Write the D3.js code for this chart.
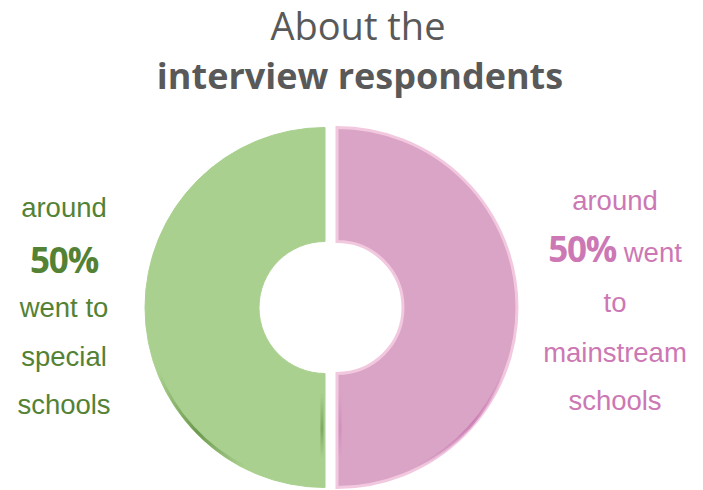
<!DOCTYPE html>
<html>
<head>
<meta charset="utf-8">
<script src="https://cdn.jsdelivr.net/npm/d3@7"></script>
<style>
  html, body { margin: 0; padding: 0; background: #ffffff; }
  svg { display: block; }
</style>
</head>
<body>
<svg id="chart" width="703" height="490"></svg>
<script>
// Share of interview respondents by school type
const categories = ["mainstream schools", "special schools"];
const shares = [50, 50];
const sliceColors = ["#d9a4c5", "#a9d08e"];
const sliceEdges = ["#f2c8df", "#a9d08e"];

const titleLines = ["About the", "interview respondents"];
const leftLines = ["around", "50%", "went to", "special", "schools"];
const rightLines = [["around"], ["50%", " went"], ["to"], ["mainstream"], ["schools"]];

const svg = d3.select("#chart");
const cx = 331, cy = 307.5;
const outerR = 180, innerR = 66, explode = 6;

// Title
const title = svg.append("g").attr("font-family", "'Open Sans', sans-serif").attr("fill", "#595959").attr("text-anchor", "middle");
title.append("text").attr("x", 358).attr("y", 40).attr("font-size", 38).text(titleLines[0]);
title.append("text").attr("x", 360).attr("y", 89).attr("font-size", 36).attr("font-weight", 700).text(titleLines[1]);

// Donut
const pie = d3.pie().sort(null).value(d => d).startAngle(0).endAngle(2 * Math.PI);
const arc = d3.arc().innerRadius(innerR).outerRadius(outerR);
const arcs = pie(shares);

const defs = svg.append("defs");
defs.append("filter").attr("id", "soft")
  .append("feGaussianBlur").attr("stdDeviation", 0.6);
defs.append("filter").attr("id", "softer")
  .append("feGaussianBlur").attr("stdDeviation", 1);

const offsetOf = d => {
  const mid = (d.startAngle + d.endAngle) / 2;
  return [Math.sin(mid) * explode, -Math.cos(mid) * explode];
};

const donut = svg.append("g").attr("transform", `translate(${cx},${cy})`);
donut.selectAll("path.slice")
  .data(arcs)
  .join("path")
  .attr("class", "slice")
  .attr("transform", d => `translate(${offsetOf(d)})`)
  .attr("d", arc)
  .attr("fill", (d, i) => sliceColors[i])
  .attr("stroke", (d, i) => sliceEdges[i])
  .attr("stroke-width", (d, i) => i === 0 ? 3 : 1)
  .attr("filter", "url(#soft)");

// Darker shading along the lower outer edge and the lower straight edge of each slice
const shadeColors = ["#c46fae", "#548235"];
const shadeArc = d3.arc().innerRadius(outerR - 3).outerRadius(outerR);
arcs.forEach((d, i) => {
  const [dx, dy] = offsetOf(d);
  const span = i === 0 ? [Math.PI * 0.62, Math.PI * 0.85] : [Math.PI * 1.15, Math.PI * 1.38];
  const gid = "shade" + i;
  const g = defs.append("linearGradient").attr("id", gid)
    .attr("gradientUnits", "userSpaceOnUse")
    .attr("x1", Math.sin(span[0]) * outerR).attr("y1", -Math.cos(span[0]) * outerR)
    .attr("x2", Math.sin(span[1]) * outerR).attr("y2", -Math.cos(span[1]) * outerR);
  g.append("stop").attr("offset", "0%").attr("stop-color", shadeColors[i]).attr("stop-opacity", 0);
  g.append("stop").attr("offset", "45%").attr("stop-color", shadeColors[i]).attr("stop-opacity", 0.7);
  g.append("stop").attr("offset", "100%").attr("stop-color", shadeColors[i]).attr("stop-opacity", 0);
  donut.append("path")
    .attr("transform", `translate(${dx},${dy})`)
    .attr("d", shadeArc({ startAngle: span[0], endAngle: span[1] }))
    .attr("fill", `url(#${gid})`)
    .attr("filter", "url(#soft)");

  // straight edge along the gap, lower part
  const vid = "vshade" + i;
  const y0 = innerR + 20, y1 = outerR - 30;
  const vg = defs.append("linearGradient").attr("id", vid)
    .attr("gradientUnits", "userSpaceOnUse")
    .attr("x1", 0).attr("y1", y0).attr("x2", 0).attr("y2", y1);
  vg.append("stop").attr("offset", "0%").attr("stop-color", shadeColors[i]).attr("stop-opacity", 0);
  vg.append("stop").attr("offset", "55%").attr("stop-color", shadeColors[i]).attr("stop-opacity", i === 0 ? 0.6 : 0.85);
  vg.append("stop").attr("offset", "100%").attr("stop-color", shadeColors[i]).attr("stop-opacity", 0);
  const edgeX = i === 0 ? 2 : -4;
  donut.append("rect")
    .attr("transform", `translate(${dx},${dy})`)
    .attr("x", edgeX).attr("y", y0)
    .attr("width", 2).attr("height", y1 - y0)
    .attr("fill", `url(#${vid})`)
    .attr("filter", "url(#softer)");
});

// Side notes
const lineFont = "'Liberation Sans', Arial, sans-serif";
const boldFont = "'Open Sans', sans-serif";

const left = svg.append("g").attr("text-anchor", "middle").attr("fill", "#548235");
const leftY = [217, 273, 317, 366, 414];
leftLines.forEach((t, i) => {
  const isPct = t === "50%";
  left.append("text")
    .attr("x", 64).attr("y", leftY[i])
    .attr("font-family", isPct ? boldFont : lineFont)
    .attr("font-weight", isPct ? 700 : 400)
    .attr("font-size", isPct ? 35 : 27.5)
    .attr("letter-spacing", isPct ? -1.2 : 0)
    .text(t);
});

const right = svg.append("g").attr("text-anchor", "middle").attr("fill", "#cc78b4");
const rightY = [210, 262, 312, 362, 410];
rightLines.forEach((parts, i) => {
  const txt = right.append("text").attr("x", 615).attr("y", rightY[i])
    .attr("font-family", lineFont).attr("font-size", 27.5);
  parts.forEach(p => {
    const isPct = p === "50%";
    txt.append("tspan")
      .attr("font-family", isPct ? boldFont : lineFont)
      .attr("font-weight", isPct ? 700 : 400)
      .attr("font-size", isPct ? 35 : 27.5)
      .attr("letter-spacing", isPct ? -1.2 : 0)
      .text(p);
  });
});
</script>
</body>
</html>
